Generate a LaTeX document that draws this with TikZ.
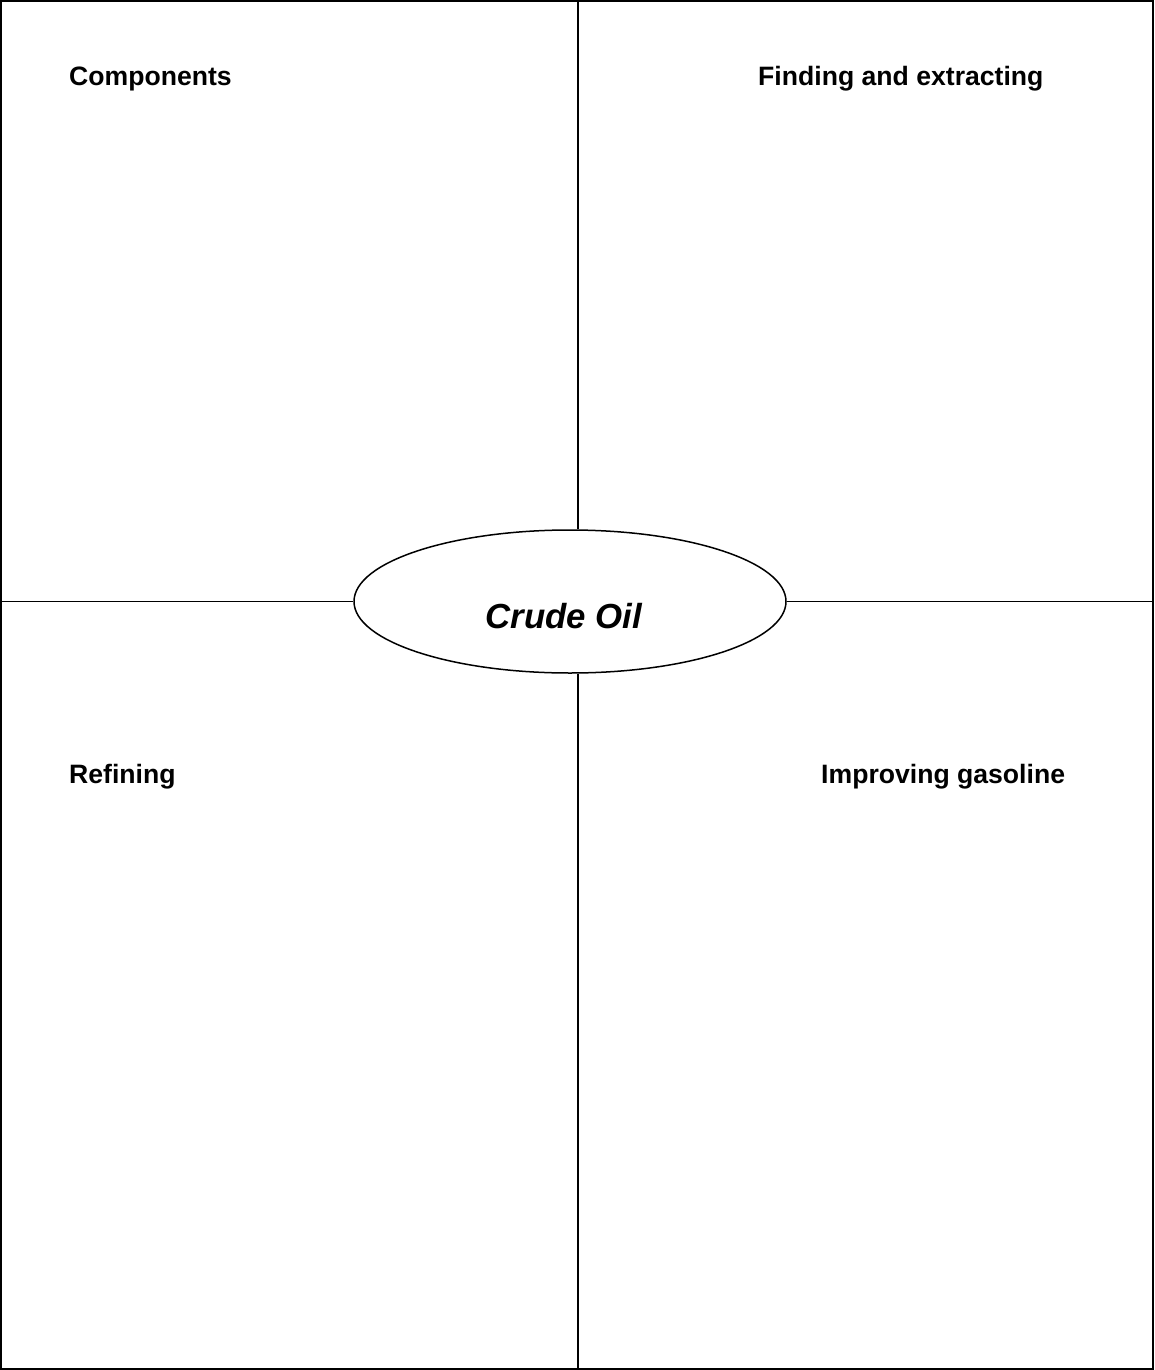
\documentclass[tikz,border=0pt]{standalone}
\usepackage{fontspec}
\setmainfont{Liberation Sans}
\usetikzlibrary{shapes.geometric}
\begin{document}
\begin{tikzpicture}[x=1pt,y=-1pt,
  frame/.style={draw=black,line width=2pt},
  divider/.style={draw=black,line width=1.5pt},
  hub/.style={ellipse,draw=black,line width=1.5pt,fill=white,inner sep=0pt,
    minimum width=432pt,minimum height=143pt},
  hubtext/.style={font=\fontsize{34.8}{40}\selectfont\bfseries\itshape,inner sep=0pt,anchor=base},
  heading/.style={font=\fontsize{26.6}{32}\selectfont\bfseries,inner sep=0pt,anchor=base west}]
\useasboundingbox (0,0) rectangle (1154,1370);
\draw[frame] (1,1) rectangle (1152.5,1368.5);
\node[hub] (e) at (570,601.5) {};
\coordinate (top) at (578,1);
\coordinate (bot) at (578,1368.5);
\coordinate (lft) at (1,601.5);
\coordinate (rgt) at (1152.5,601.5);
\draw[divider] (top) -- (top |- e.north);
\draw[divider] (bot) -- (bot |- e.south);
\draw[divider] (lft) -- (e.west);
\draw[divider] (rgt) -- (e.east);
\node[hubtext] (crude) at (564,628.5) {Crude Oil};
\node[heading] (comp) at (69,85.5) {Components};
\node[heading] (find) at (758,85.5) {Finding and extracting};
\node[heading] (refi) at (69,783) {Refining};
\node[heading] (impr) at (821,783) {Improving gasoline};
\end{tikzpicture}
\end{document}
